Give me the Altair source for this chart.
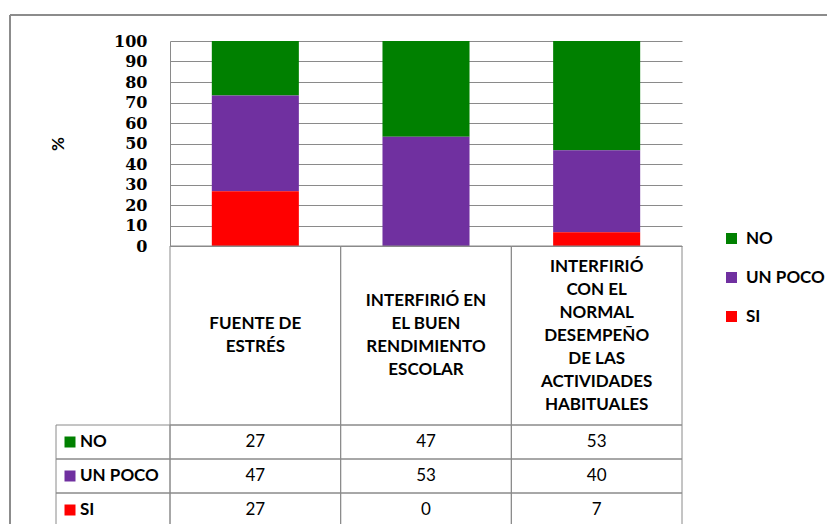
import altair as alt
import pandas as pd

# ---- data ----
categories = [
    "FUENTE DE\nESTRÉS",
    "INTERFIRIÓ EN\nEL BUEN\nRENDIMIENTO\nESCOLAR",
    "INTERFIRIÓ\nCON EL\nNORMAL\nDESEMPEÑO\nDE LAS\nACTIVIDADES\nHABITUALES",
]
series = ["NO", "UN POCO", "SI"]
no_vals = [26.7, 46.7, 53.3]
un_poco_vals = [46.7, 53.3, 40.0]
si_vals = [26.7, 0.0, 6.7]
colors = ["#008000", "#7030A0", "#FF0000"]
y_ticks = [0, 10, 20, 30, 40, 50, 60, 70, 80, 90, 100]

stack_rank = {"SI": 0, "UN POCO": 1, "NO": 2}
rows = []
for s, vals in zip(series, [no_vals, un_poco_vals, si_vals]):
    for c, v in zip(categories, vals):
        rows.append({"cat": c, "serie": s, "value": v, "ord": stack_rank[s]})
df = pd.DataFrame(rows)
df_cats = pd.DataFrame({"cat": categories})
df_series = pd.DataFrame({"serie": series})
dummy = pd.DataFrame({"a": [0]})

GRID = "#8a8a8a"
FONT = "Lato"
FS = 17
LINE_H = 23

legend = alt.Legend(
    title=None, orient="none", legendX=553, legendY=189, padding=0,
    symbolType="square", symbolSize=121, symbolStrokeWidth=0,
    labelFont=FONT, labelFontSize=FS, labelFontWeight="bold", labelColor="black",
    rowPadding=21, labelOffset=6,
)
color = alt.Color("serie:N", scale=alt.Scale(domain=series, range=colors), legend=legend)

# ---- stacked bars ----
bars = alt.Chart(df).mark_bar(clip=True).encode(
    x=alt.X("cat:N", sort=categories, axis=None,
            scale=alt.Scale(domain=categories, paddingInner=0.49, paddingOuter=0.245)),
    y=alt.Y("value:Q", stack="zero",
            scale=alt.Scale(domain=[0, 100]),
            axis=alt.Axis(values=y_ticks, title="%", grid=True, gridColor=GRID, gridWidth=1,
                          domain=True, domainColor=GRID, ticks=False, tickSize=0,
                          labelPadding=23, labelFont="DejaVu Serif", labelFontSize=16,
                          labelFontWeight="bold", labelColor="black",
                          titleFont=FONT, titleFontSize=FS, titleFontWeight="bold",
                          titleColor="black", titleAngle=-90, titleX=-112, titleY=102.5,
                          titleBaseline="middle", titleAlign="center")),
    color=color,
    order=alt.Order("ord:Q", sort="ascending"),
)

# ---- data table under the plot ----
x_tab = alt.X("cat:N", sort=categories, axis=None,
              scale=alt.Scale(domain=categories, paddingInner=0, paddingOuter=0))
y_tab = alt.Y("serie:N", axis=None,
              scale=alt.Scale(domain=series, range=[384, 486], paddingInner=0, paddingOuter=0))

cells = alt.Chart(df).mark_rect(filled=False, stroke=GRID, strokeWidth=1).encode(x=x_tab, y=y_tab)
header_cells = alt.Chart(df_cats).mark_rect(filled=False, stroke=GRID, strokeWidth=1).encode(
    x=x_tab, y=alt.value(205), y2=alt.value(384))
legend_cells = alt.Chart(df_series).mark_rect(filled=False, stroke=GRID, strokeWidth=1).encode(
    x=alt.value(-114), x2=alt.value(0), y=y_tab)

# header labels: one text mark per column, block centred vertically in the header cell
header_texts = []
for c in categories:
    n_lines = c.count("\n") + 1
    header_texts.append(
        alt.Chart(df_cats).transform_filter(alt.datum.cat == c).mark_text(
            font=FONT, fontSize=FS, fontWeight="bold", color="black", lineBreak="\n",
            lineHeight=LINE_H, baseline="middle", align="center",
            dy=-(n_lines - 1) / 2 * LINE_H,
        ).encode(x=x_tab, y=alt.value(294.5), text="cat:N")
    )

value_text = alt.Chart(df).mark_text(font=FONT, fontSize=FS, color="black").encode(
    x=x_tab, y=y_tab, text=alt.Text("value:Q", format=".0f"))
legend_squares = alt.Chart(df_series).mark_square(size=121, opacity=1).encode(
    x=alt.value(-100), y=y_tab, color=color)
legend_labels = alt.Chart(df_series).mark_text(
    font=FONT, fontSize=FS, fontWeight="bold", color="black", align="left").encode(
    x=alt.value(-90), y=y_tab, text="serie:N")

frame_top = alt.Chart(dummy).mark_rule(color="#8c8c8c", strokeWidth=2).encode(
    x=alt.value(-160), x2=alt.value(700), y=alt.value(-26))
frame_left = alt.Chart(dummy).mark_rule(color="#8c8c8c", strokeWidth=2).encode(
    x=alt.value(-160), y=alt.value(-26), y2=alt.value(520))

table = alt.layer(header_cells, cells, legend_cells, *header_texts, value_text,
                  legend_squares, legend_labels, frame_top, frame_left)

chart = alt.layer(bars, table).resolve_scale(
    x="independent", y="independent"
).properties(
    width=512, height=205,
    padding={"left": 162, "top": 33, "right": 145, "bottom": 278},
    autosize=alt.AutoSizeParams(type="none"),
    background="white",
).configure_view(stroke=None)

chart.save("out.html", embed_options={"renderer": "svg", "actions": False})
